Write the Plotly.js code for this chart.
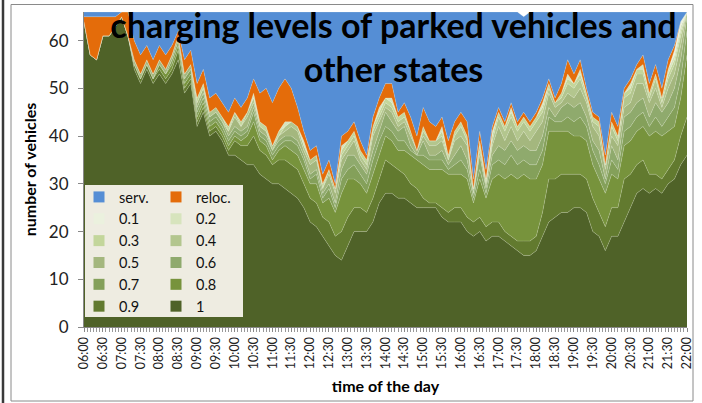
<!DOCTYPE html>
<html><head><meta charset="utf-8">
<script src="https://cdn.plot.ly/plotly-3.0.1.min.js"></script>
<style>html,body{margin:0;padding:0;background:#fff;}#chart{width:702px;height:403px;}</style>
</head><body><div id="chart"></div>
<script>
// time of the day (categories)
const times = ['06:00','06:10','06:20','06:30','06:40','06:50',
'07:00','07:10','07:20','07:30','07:40','07:50',
'08:00','08:10','08:20','08:30','08:40','08:50',
'09:00','09:10','09:20','09:30','09:40','09:50',
'10:00','10:10','10:20','10:30','10:40','10:50',
'11:00','11:10','11:20','11:30','11:40','11:50',
'12:00','12:10','12:20','12:30','12:40','12:50',
'13:00','13:10','13:20','13:30','13:40','13:50',
'14:00','14:10','14:20','14:30','14:40','14:50',
'15:00','15:10','15:20','15:30','15:40','15:50',
'16:00','16:10','16:20','16:30','16:40','16:50',
'17:00','17:10','17:20','17:30','17:40','17:50',
'18:00','18:10','18:20','18:30','18:40','18:50',
'19:00','19:10','19:20','19:30','19:40','19:50',
'20:00','20:10','20:20','20:30','20:40','20:50',
'21:00','21:10','21:20','21:30','21:40','21:50','22:00'];

// number of vehicles per state (stacked bottom to top)
const lvl10 = [64,57,56,61,61,63,65,61, 54,51,54,51,53,51,53,56, 49,51,42,45,40,41,39,36, 36,35,34,34,32,31,30,30, 29,28,27,25,22,21,19,17, 15,14,17,20,20,20,22,26, 28,28,27,27,26,25,25,25, 25,23,22,22,22,20,19,20, 18,19,19,18,17,16,15,15, 16,19,22,23,24,24,25,25, 24,20,19,16,19,19,22,25, 28,29,28,29,28,30,31,34, 36];
const lvl09 = [0,0,0,0,0,0,0,0, 1,1,1,1,1,1,1,2, 1,1,1,1,1,1,1,1, 3,3,4,6,5,5,4,5, 6,6,6,5,5,5,4,5, 4,6,6,5,5,4,5,5, 7,6,6,5,4,4,2,1, 1,2,2,3,3,3,3,3, 3,3,3,2,2,2,3,3, 3,5,9,8,8,8,7,7, 7,7,5,5,6,6,9,7, 6,6,4,3,3,3,4,6, 8];
const lvl08 = [0,0,0,0,0,0,0,0, 0,0,0,0,1,1,1,1, 1,1,1,1,1,1,1,1, 1,1,2,3,2,2,1,2, 3,3,3,3,3,4,3,5, 5,8,8,6,5,4,5,5, 5,5,4,5,6,6,7,7, 7,8,8,7,7,8,4,8, 6,9,10,11,13,13,14,13, 12,10,10,10,9,9,8,8, 8,7,7,7,7,6,7,7, 7,7,8,9,9,8,7,8, 13];
const lvl07 = [0,0,0,0,0,0,0,0, 0,0,0,0,0,0,1,1, 1,1,1,1,1,1,1,1, 1,1,1,2,1,1,1,1, 1,2,2,2,1,2,1,2, 1,3,2,3,2,2,3,3, 2,2,2,2,1,1,2,2, 2,2,1,2,3,2,1,2, 1,3,3,3,4,3,3,3, 3,3,3,2,2,3,3,4, 3,3,3,2,3,2,3,3, 3,3,2,3,2,3,4,4, 5];
const lvl06 = [0,0,0,0,0,0,0,0, 0,0,0,0,0,0,0,0, 0,0,1,1,1,1,1,1, 1,1,1,1,1,1,1,1, 1,1,1,1,1,1,1,1, 1,2,3,2,2,2,2,2, 3,2,2,3,1,0,3,1, 1,2,1,2,3,2,1,3, 1,2,3,3,3,3,3,3, 3,3,2,1,3,3,3,3, 2,2,3,1,3,2,3,3, 3,3,2,3,3,3,4,4, 3];
const lvl05 = [0,0,0,0,0,0,0,0, 1,1,1,1,1,1,1,1, 1,1,1,1,0,0,0,1, 2,1,2,1,1,1,0,1, 1,2,2,1,2,2,1,2, 2,2,1,3,1,1,3,2, 1,2,1,1,2,1,1,2, 2,2,1,3,2,3,0,1, 1,2,4,2,3,2,3,2, 4,3,3,2,1,2,2,3, 3,3,3,2,2,3,2,2, 4,3,3,3,1,3,3,3, 1];
const lvl04 = [0,0,0,0,0,0,0,0, 0,0,0,0,0,0,0,0, 0,0,0,0,1,1,1,0, 1,0,1,1,0,0,1,0, 1,1,1,1,1,1,0,1, 1,1,1,1,1,1,1,1, 1,1,1,1,1,0,1,1, 1,1,0,1,2,1,1,1, 0,1,2,2,2,2,2,2, 2,2,1,1,1,2,2,2, 1,1,2,1,2,1,2,2, 2,2,1,2,1,2,2,2, 0];
const lvl03 = [0,0,0,0,0,0,0,0, 0,0,0,0,0,0,0,0, 0,0,1,1,0,0,0,1, 0,1,0,0,1,1,0,1, 0,0,0,0,0,0,1,0, 0,1,1,1,1,1,1,1, 1,1,1,1,0,0,1,0, 0,1,1,1,1,1,0,1, 1,1,1,1,1,1,1,1, 1,1,1,0,1,1,1,1, 1,1,1,0,1,1,1,1, 1,1,1,1,1,1,1,1, 0];
const lvl02 = [0,0,0,0,0,0,0,0, 0,0,0,0,0,0,0,0, 0,0,0,0,0,0,0,0, 0,0,0,1,0,0,0,0, 1,0,0,1,0,0,0,0, 0,1,0,0,0,0,0,1, 0,1,0,0,0,0,0,0, 0,1,0,0,0,0,0,0, 0,1,0,0,1,0,0,0, 0,1,0,0,0,1,0,1, 0,0,0,0,0,0,0,1, 0,1,0,0,0,1,1,1, 0];
const lvl01 = [0,0,0,0,0,0,0,0, 0,0,0,0,0,0,0,0, 0,0,0,0,0,0,0,0, 0,0,0,0,0,0,0,0, 0,0,0,0,0,0,0,0, 0,0,0,0,0,0,0,0, 0,0,0,0,0,0,0,0, 0,0,0,0,0,0,0,0, 0,0,0,0,0,0,0,0, 0,0,0,0,0,0,0,0, 0,0,0,0,0,0,0,0, 0,0,0,0,0,0,1,1, 0];
const reloc = [1,8,9,4,4,2,1,5, 4,4,3,3,3,3,2,1, 3,3,3,3,3,3,3,3, 3,3,3,3,6,8,9,9, 9,7,4,2,2,2,2,2, 1,2,2,2,2,1,2,2, 3,3,1,2,3,3,4,4, 3,2,3,2,2,3,2,2, 2,1,1,1,1,1,1,1, 1,1,1,1,2,3,2,2, 1,1,1,2,2,2,1,1, 1,2,2,2,2,2,1,0, 0];
const serv = [1,1,1,1,1,1,0,0, 6,9,7,10,7,9,7,4, 10,8,15,12,18,17,19,21, 18,20,18,14,17,16,19,16, 14,16,20,25,29,28,34,31, 36,26,25,23,27,30,22,18, 15,15,21,19,22,26,20,23, 24,22,27,23,21,23,35,25, 33,24,20,23,19,23,20,23, 21,18,14,18,15,10,13,10, 16,21,22,30,21,24,16,14, 11,9,15,11,16,10,7,2, 0];

const seriesNames = ['1','0.9','0.8','0.7','0.6','0.5','0.4','0.3','0.2','0.1','reloc.','serv.'];
const seriesValues = [lvl10,lvl09,lvl08,lvl07,lvl06,lvl05,lvl04,lvl03,lvl02,lvl01,reloc,serv];
const seriesColors = ['#4F6228','#627A2F','#77933C','#84A05A','#8FAA6D','#A4B77E','#B3C68E','#C3D69B','#D7E4BD','#EBF1DE','#E46C0A','#558ED5'];
const legendLeft = ['serv.','0.1','0.3','0.5','0.7','0.9'];
const legendRight = ['reloc.','0.2','0.4','0.6','0.8','1'];

const FONT = 'Lato, "Open Sans", sans-serif';
const W = 702, H = 403, M = {l:84, r:15, t:12, b:76};
const PW = W - M.l - M.r, PH = H - M.t - M.b;
const px = x => (x - M.l) / PW;          // pixel -> paper x
const py = y => (H - M.b - y) / PH;       // pixel -> paper y
const day = t => '2000-01-01 ' + t;
const xs = times.map(day);

const traces = seriesNames.map((n, k) => ({
  type: 'scatter', mode: 'lines', name: n, x: xs, y: seriesValues[k],
  stackgroup: 'one', fillcolor: seriesColors[k],
  line: {color: 'rgba(235,241,222,0.35)', width: 0.6, shape: 'linear'},
  showlegend: false, hoverinfo: 'skip'
}));
function legendEntry(n, lg) {
  const k = seriesNames.indexOf(n);
  return {type: 'scatter', mode: 'markers', name: n, x: [null], y: [null], legend: lg,
    marker: {symbol: 'square', size: 11, color: seriesColors[k], line: {width: 0}},
    showlegend: true, hoverinfo: 'skip'};
}
legendLeft.forEach(n => traces.push(legendEntry(n, 'legend')));
legendRight.forEach(n => traces.push(legendEntry(n, 'legend2')));

const legFont = {family: FONT, size: 14.5, color: '#111'};
const layout = {
  width: W, height: H, margin: M,
  paper_bgcolor: '#ffffff', plot_bgcolor: '#ffffff',
  showlegend: true,
  title: {text: 'charging levels of parked vehicles and<br>other states',
    font: {family: FONT, size: 34, color: '#000', weight: 700},
    x: 393.5 / W, xref: 'container', xanchor: 'center',
    y: 1 - 37.5 / H, yref: 'container', yanchor: 'top'},
  xaxis: {type: 'date', range: [day('06:00'), day('22:00')],
    tick0: day('06:00'), dtick: 1800000, tickformat: '%H:%M', tickangle: -90,
    ticks: 'outside', ticklen: 4, tickcolor: '#888', showline: true, linecolor: '#888', linewidth: 1,
    minor: {dtick: 300000, ticks: 'outside', ticklen: 4, tickcolor: '#999', showgrid: false},
    showgrid: false, zeroline: false,
    tickfont: {family: FONT, size: 12.5, color: '#222'},
    title: {text: 'time of the day', font: {family: FONT, size: 16, color: '#000', weight: 700}, standoff: 12}},
  yaxis: {range: [0, 66], tick0: 0, dtick: 10, ticks: 'outside', ticklen: 5, tickcolor: '#888',
    showline: true, linecolor: '#888', linewidth: 1, showgrid: false, zeroline: false,
    tickfont: {family: FONT, size: 17, color: '#222'}, ticklabelstandoff: 6,
    title: {text: 'number of vehicles', font: {family: FONT, size: 16, color: '#000', weight: 700}, standoff: 8}},
  legend: {x: px(79), y: py(181), xanchor: 'left', yanchor: 'top', orientation: 'v',
    bgcolor: 'rgba(0,0,0,0)', borderwidth: 0, font: legFont, traceorder: 'normal', itemclick: false},
  legend2: {x: px(156), y: py(181), xanchor: 'left', yanchor: 'top', orientation: 'v',
    bgcolor: 'rgba(0,0,0,0)', borderwidth: 0, font: legFont, traceorder: 'normal', itemclick: false},
  shapes: [
    {type: 'rect', xref: 'paper', yref: 'paper', x0: px(85), x1: px(243), y0: py(317), y1: py(185),
      fillcolor: '#EEECE1', line: {width: 0}, layer: 'above'},
    {type: 'rect', xref: 'paper', yref: 'paper', x0: px(11), x1: px(693), y0: py(401), y1: py(4.5),
      fillcolor: 'rgba(0,0,0,0)', line: {color: '#8a8a8a', width: 1}, layer: 'below'},
    {type: 'line', xref: 'paper', yref: 'paper', x0: px(3), x1: px(3), y0: py(403), y1: py(0),
      line: {color: '#3a3a3a', width: 2.5}, layer: 'below'}
  ],
  hovermode: false
};
Plotly.newPlot('chart', traces, layout, {staticPlot: true, displayModeBar: false});
</script></body></html>
